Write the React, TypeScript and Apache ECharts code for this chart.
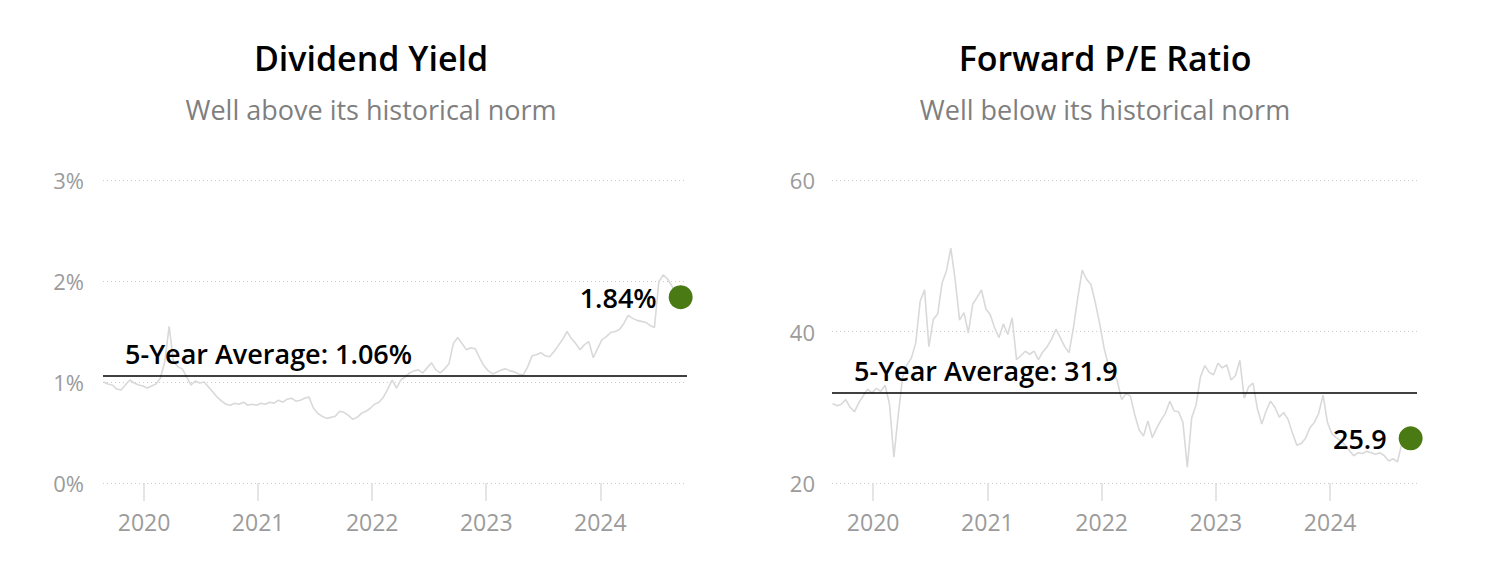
import React, { useEffect, useRef } from "react";
import * as echarts from "echarts";

// x positions: one reading every 14 days, starting late Aug 2019 (decimal years)
const START_YEAR = 2019.645;
const STEP_YEARS = 14 / 365.25;
const X_MIN = 2019.64;
const X_MAX = 2024.76;
const YEAR_TICKS = [2020, 2021, 2022, 2023, 2024];

const TITLES = ["Dividend Yield", "Forward P/E Ratio"];
const SUBTITLES = ["Well above its historical norm", "Well below its historical norm"];

// Dividend yield, %
const dividendYield = [
  1.0, 0.98, 0.97, 0.93, 0.92, 0.97, 1.02, 0.99, 0.97, 0.96,
  0.94, 0.96, 0.98, 1.04, 1.2, 1.55, 1.2, 1.15, 1.13, 1.05,
  0.97, 1.01, 0.99, 1.0, 0.95, 0.9, 0.85, 0.81, 0.78, 0.77,
  0.79, 0.78, 0.8, 0.77, 0.78, 0.77, 0.79, 0.78, 0.8, 0.79,
  0.82, 0.8, 0.83, 0.84, 0.81, 0.82, 0.84, 0.85, 0.74, 0.69,
  0.66, 0.64, 0.65, 0.66, 0.71, 0.7, 0.67, 0.63, 0.65, 0.69,
  0.71, 0.74, 0.78, 0.8, 0.85, 0.93, 1.02, 0.94, 1.02, 1.05,
  1.09, 1.11, 1.12, 1.09, 1.14, 1.19, 1.12, 1.09, 1.13, 1.18,
  1.38, 1.44, 1.38, 1.32, 1.34, 1.33, 1.24, 1.16, 1.11, 1.08,
  1.1, 1.12, 1.13, 1.11, 1.1, 1.08, 1.07, 1.15, 1.26, 1.27,
  1.29, 1.26, 1.25, 1.3, 1.36, 1.42, 1.5, 1.43, 1.38, 1.32,
  1.37, 1.4, 1.24, 1.33, 1.42, 1.45, 1.49, 1.5, 1.52, 1.58,
  1.66, 1.63, 1.61, 1.6, 1.59, 1.56, 1.54, 1.99, 2.06, 2.02,
  1.95, 1.88, 1.84,
];

// Forward P/E ratio
const forwardPE = [
  30.5, 30.2, 30.4, 31.0, 30.0, 29.4, 30.6, 31.5, 32.4, 31.9,
  32.5, 32.1, 32.9, 30.4, 23.4, 29.0, 34.0, 35.6, 36.5, 38.5,
  44.0, 45.5, 38.0, 41.6, 42.3, 46.4, 48.0, 51.0, 46.8, 41.5,
  42.5, 39.8, 43.6, 44.5, 45.5, 43.0, 42.2, 40.5, 39.2, 41.0,
  39.6, 41.8, 36.3, 36.8, 37.4, 37.0, 37.4, 36.3, 37.3, 38.0,
  39.0, 40.3, 39.2, 38.0, 37.2, 40.5, 44.5, 48.1, 46.9, 46.2,
  43.8, 41.0, 37.8, 35.5, 34.6, 33.5, 31.0, 31.8, 31.5, 29.0,
  27.0, 26.2, 28.2, 26.0, 27.2, 28.3, 29.2, 30.8, 29.5, 29.4,
  28.0, 22.1, 28.6, 30.3, 34.0, 35.5, 34.6, 34.3, 35.8, 35.2,
  35.6, 33.6, 34.2, 36.2, 31.2, 32.7, 33.2, 29.8, 27.8, 29.5,
  30.8, 30.0, 28.7, 29.3, 28.4, 26.6, 25.0, 25.2, 25.9, 27.3,
  28.0, 29.2, 31.6, 28.0, 26.5, 26.0, 25.6, 25.0, 24.3, 23.6,
  24.0, 23.9, 24.2, 24.0, 23.8, 24.0, 23.6, 22.9, 23.2, 22.8,
  25.3, 25.6, 25.9,
];

const YIELD_AVG = 1.06;
const PE_AVG = 31.9;

const FONT = "'Open Sans', 'Noto Sans', sans-serif";
const GREEN = "#4a7a13";
const LINE_GREY = "#d9d9d9";
const LABEL_GREY = "#9b9b9b";

function toPoints(values: number[]) {
  return values.map((v, i) => [START_YEAR + i * STEP_YEARS, v]);
}

export default function App() {
  const ref = useRef<HTMLDivElement>(null);

  useEffect(() => {
    if (!ref.current) return;
    const chart = echarts.init(ref.current, null, { renderer: "svg" });

    const grids = [
      { left: 103, top: 180, width: 584, height: 303 },
      { left: 832, top: 180, width: 585, height: 303 },
    ];
    const centers = [371, 1105];

    const xAxis = grids.map((_, gi) => ({
      type: "value",
      gridIndex: gi,
      min: X_MIN,
      max: X_MAX,
      splitLine: { show: false },
      axisLine: { show: false },
      axisTick: {
        show: true,
        length: 18,
        customValues: YEAR_TICKS,
        lineStyle: { color: "#dcdcdc", width: 1.5 },
      },
      axisLabel: {
        customValues: YEAR_TICKS,
        formatter: (v: number) => String(Math.round(v)),
        color: LABEL_GREY,
        fontFamily: FONT,
        fontSize: 23,
        margin: 27,
      },
    }));

    const yAxis = [
      {
        type: "value",
        gridIndex: 0,
        min: 0,
        max: 3,
        interval: 1,
        axisLine: { show: false },
        axisTick: { show: false },
        axisLabel: {
          formatter: "{value}%",
          color: LABEL_GREY,
          fontFamily: FONT,
          fontSize: 22,
          margin: 19,
        },
        splitLine: { lineStyle: { color: "#cccccc", type: [1, 3], width: 1 } },
      },
      {
        type: "value",
        gridIndex: 1,
        min: 20,
        max: 60,
        interval: 20,
        axisLine: { show: false },
        axisTick: { show: false },
        axisLabel: {
          color: LABEL_GREY,
          fontFamily: FONT,
          fontSize: 22,
          margin: 17,
        },
        splitLine: { lineStyle: { color: "#cccccc", type: [1, 3], width: 1 } },
      },
    ];

    const makeLine = (values: number[], gi: number, avg: number, avgText: string) => ({
      type: "line",
      xAxisIndex: gi,
      yAxisIndex: gi,
      data: toPoints(values),
      showSymbol: false,
      symbol: "none",
      lineStyle: { color: LINE_GREY, width: 1.6 },
      z: 2,
      silent: true,
      markLine: {
        silent: true,
        symbol: "none",
        z: 3,
        lineStyle: { color: "#000", width: 1.6, type: "solid", opacity: 1 },
        label: {
          show: true,
          position: "insideStartTop",
          formatter: avgText,
          color: "#000",
          fontFamily: FONT,
          fontSize: 27,
          fontWeight: 600,
          distance: 9,
          padding: [0, 0, 0, 13],
        },
        data: [{ yAxis: avg }],
      },
    });

    const makeDot = (values: number[], gi: number, text: string) => {
      const i = values.length - 1;
      return {
        type: "scatter",
        xAxisIndex: gi,
        yAxisIndex: gi,
        data: [[START_YEAR + i * STEP_YEARS, values[i]]],
        symbolSize: 24,
        itemStyle: { color: GREEN, opacity: 1 },
        z: 5,
        silent: true,
        label: {
          show: true,
          position: "left",
          distance: 12,
          formatter: text,
          color: "#000",
          fontFamily: FONT,
          fontSize: 27,
          fontWeight: 600,
        },
      };
    };

    const graphic: any[] = [];
    centers.forEach((cx, k) => {
      graphic.push({
        type: "text",
        x: cx,
        y: 58,
        style: {
          text: TITLES[k],
          fill: "#000",
          font: `600 34px ${FONT}`,
          textAlign: "center",
          textVerticalAlign: "middle",
        },
      });
      graphic.push({
        type: "text",
        x: cx,
        y: 109,
        style: {
          text: SUBTITLES[k],
          fill: "#7f7f7f",
          font: `400 27px ${FONT}`,
          textAlign: "center",
          textVerticalAlign: "middle",
        },
      });
    });

    chart.setOption({
      animation: false,
      backgroundColor: "#fff",
      grid: grids,
      xAxis,
      yAxis,
      graphic,
      series: [
        makeLine(dividendYield, 0, YIELD_AVG, `5-Year Average: ${YIELD_AVG.toFixed(2)}%`),
        makeLine(forwardPE, 1, PE_AVG, `5-Year Average: ${PE_AVG.toFixed(1)}`),
        makeDot(dividendYield, 0, `${dividendYield[dividendYield.length - 1].toFixed(2)}%`),
        makeDot(forwardPE, 1, `${forwardPE[forwardPE.length - 1].toFixed(1)}`),
      ],
    });

    return () => chart.dispose();
  }, []);

  return (
    <div
      ref={ref}
      style={{ position: "absolute", left: 0, top: 0, width: 1490, height: 584 }}
    />
  );
}
